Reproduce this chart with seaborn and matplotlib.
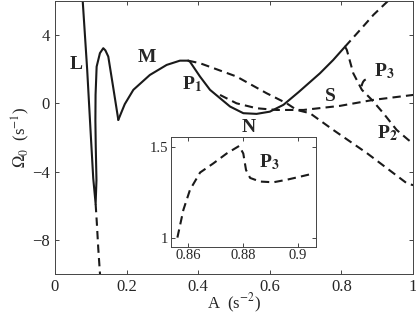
import matplotlib
matplotlib.use("Agg")
import matplotlib.pyplot as plt
import seaborn as sns

# solid branches
L_A = [0.0773, 0.0900, 0.1000, 0.1070, 0.1137, 0.1160, 0.1140, 0.1130, 0.1135, 0.1165, 0.1257, 0.1350, 0.1410, 0.1490, 0.1630, 0.1770]
L_W = [6.10, 2.00, -1.80, -4.40, -5.90, -4.50, -2.50, -1.00, 0.50, 2.15, 2.94, 3.23, 3.10, 2.74, 0.90, -0.97]
M_A = [0.1770, 0.1950, 0.2190, 0.2650, 0.3120, 0.3490, 0.3720]
M_W = [-0.97, -0.05, 0.79, 1.66, 2.25, 2.50, 2.50]
P1_A = [0.3720, 0.3770, 0.4050, 0.4330, 0.4610, 0.4890, 0.5260, 0.5630, 0.6000, 0.6380, 0.6800, 0.7400, 0.7770, 0.8100]
P1_W = [2.50, 2.44, 1.57, 0.79, 0.30, -0.19, -0.58, -0.62, -0.49, -0.09, 0.65, 1.76, 2.54, 3.32]

# dashed branches
Ld_A = [0.1137, 0.1170, 0.1210, 0.1265]
Ld_W = [-5.90, -7.00, -8.50, -10.20]
D1_A = [0.3720, 0.4050, 0.5070, 0.5910, 0.6470, 0.6750, 0.7120, 0.7770, 0.8710, 0.9820, 1.0000]
D1_W = [2.50, 2.35, 1.57, 0.59, 0.00, -0.39, -0.58, -1.56, -2.92, -4.68, -4.80]
S_A = [0.4610, 0.5070, 0.5630, 0.6190, 0.6940, 0.7960, 0.8890, 1.0000]
S_W = [0.49, 0.00, -0.29, -0.39, -0.39, -0.15, 0.20, 0.49]
U_A = [0.8100, 0.8520, 0.8900, 0.9400]
U_W = [3.32, 4.30, 5.20, 6.20]
P2_A = [0.8100, 0.8150, 0.8330, 0.8570, 0.8850, 0.9170, 0.9540, 0.9870, 1.0000]
P2_W = [3.32, 3.13, 1.76, 0.79, 0.20, -0.58, -1.56, -2.15, -2.35]
P3_A = [0.8560, 0.8582, 0.8606, 0.8643, 0.8691, 0.8740, 0.8786, 0.8801, 0.8811, 0.8826, 0.8862, 0.8911, 0.8960, 0.9009, 0.9045]
P3_W = [1.00, 1.154, 1.264, 1.36, 1.41, 1.465, 1.507, 1.465, 1.374, 1.33, 1.31, 1.306, 1.32, 1.337, 1.35]

sns.set_theme(style="ticks")
plt.rcParams["font.family"] = ["Liberation Serif", "DejaVu Serif"]
plt.rcParams["mathtext.fontset"] = "stix"
plt.rcParams["xtick.direction"] = "in"
plt.rcParams["ytick.direction"] = "in"

DASH = (0, (4, 2.5))

fig = plt.figure(figsize=(4.16, 3.17), dpi=100)
ax = fig.add_axes([0.132, 0.136, 0.861, 0.861])

def line(a, x, y, ls="-"):
    sns.lineplot(x=x, y=y, ax=a, sort=False, estimator=None, color="k",
                 lw=1.5, linestyle=ls)

line(ax, L_A, L_W)
line(ax, M_A, M_W)
line(ax, P1_A, P1_W)
for xa, ya in [(Ld_A, Ld_W), (D1_A, D1_W), (S_A, S_W), (U_A, U_W),
               (P2_A, P2_W), (P3_A[:7], P3_W[:7])]:
    line(ax, xa, ya, DASH)

ax.set_xlim(0, 1)
ax.set_ylim(-10, 6)
ax.set_xticks([0, 0.2, 0.4, 0.6, 0.8, 1])
ax.set_xticklabels(["0", "0.2", "0.4", "0.6", "0.8", "1"])
ax.set_yticks([-8, -4, 0, 4])
ax.set_yticklabels(["\u22128", "\u22124", "0", "4"])
ax.tick_params(labelsize=12, top=True, right=True, length=3, width=0.6)
ax.set_xlabel("A  (s$^{-2}$)", fontsize=12, labelpad=-2)
ax.set_ylabel("$\\Omega_0$  (s$^{-1}$)", fontsize=12, labelpad=0)
for s in ax.spines.values():
    s.set_linewidth(0.7)
    s.set_color("#444444")

bold = dict(fontsize=14, fontweight="bold", ha="center", va="center")
ax.text(0.060, 2.25, "L", **bold)
ax.text(0.258, 2.70, "M", **bold)
ax.text(0.382, 1.10, "P$_\\mathbf{1}$", **bold)
ax.text(0.540, -1.40, "N", **bold)
ax.text(0.768, 0.38, "S", **bold)
ax.text(0.920, 1.90, "P$_\\mathbf{3}$", **bold)
ax.text(0.928, -1.75, "P$_\\mathbf{2}$", **bold)

ins = fig.add_axes([0.410, 0.222, 0.349, 0.345])
line(ins, P3_A, P3_W, DASH)
ins.set_xlim(0.8535, 0.9066)
ins.set_ylim(0.95, 1.555)
ins.set_xticks([0.86, 0.88, 0.9])
ins.set_xticklabels(["0.86", "0.88", "0.9"])
ins.set_yticks([1, 1.5])
ins.set_yticklabels(["1", "1.5"])
ins.tick_params(labelsize=10.5, top=True, right=True, length=3, width=0.6, pad=2)
ins.set_xlabel("")
ins.set_ylabel("")
for s in ins.spines.values():
    s.set_linewidth(0.7)
    s.set_color("#444444")
ins.text(0.8895, 1.42, "P$_\\mathbf{3}$", **bold)

fig.savefig("out.png", dpi=100)
